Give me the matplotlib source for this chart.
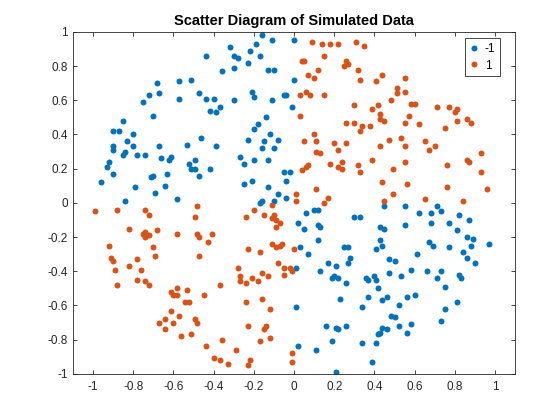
import matplotlib.pyplot as plt

plt.rcParams['font.family'] = ['Liberation Sans', 'DejaVu Sans']

# (x, y) points of class -1
class_neg = [
    (-0.44, 0.86), (-0.36, 0.77), (-0.68, 0.70), (-0.57, 0.71), (-0.51, 0.72), (-0.72, 0.63),
    (-0.67, 0.64), (-0.75, 0.59), (-0.57, 0.61), (-0.47, 0.64), (-0.44, 0.61), (-0.40, 0.61),
    (-0.42, 0.54), (-0.37, 0.56), (-0.39, 0.53), (-0.70, 0.51), (-0.85, 0.48), (-0.90, 0.42),
    (-0.87, 0.42), (-0.80, 0.40), (-0.46, 0.38), (-0.83, 0.36),
    (-0.16, 0.98), (-0.11, 0.95), (0.00, 0.95), (-0.19, 0.93), (-0.32, 0.91), (-0.22, 0.89),
    (-0.30, 0.86), (-0.28, 0.85), (-0.17, 0.86), (-0.23, 0.82), (-0.30, 0.79), (-0.13, 0.78),
    (-0.10, 0.78), (0.00, 0.72), (-0.21, 0.65), (-0.20, 0.62), (-0.30, 0.60), (-0.11, 0.60),
    (-0.05, 0.63), (-0.04, 0.63), (-0.01, 0.56), (-0.14, 0.50), (-0.18, 0.46), (-0.20, 0.43),
    (-0.12, 0.40), (-0.23, 0.37), (-0.15, 0.36), (-0.08, 0.37),
    (-0.90, 0.33), (-0.80, 0.33), (-0.67, 0.33), (-0.53, 0.34), (-0.39, 0.33), (-0.90, 0.31),
    (-0.84, 0.30), (-0.85, 0.28), (-0.78, 0.28), (-0.74, 0.28), (-0.66, 0.26), (-0.62, 0.25),
    (-0.61, 0.27), (-0.92, 0.24), (-0.93, 0.21), (-0.90, 0.17), (-0.96, 0.12), (-0.71, 0.15),
    (-0.70, 0.16), (-0.63, 0.17), (-0.79, 0.09), (-0.64, 0.10), (-0.69, 0.06), (-0.84, 0.01),
    (-0.58, 0.02), (-0.52, 0.23), (-0.49, 0.25), (-0.51, 0.20), (-0.49, 0.20), (-0.47, 0.16),
    (-0.42, 0.20),
    (-0.16, 0.32), (-0.10, 0.32), (-0.27, 0.27), (-0.25, 0.23), (-0.20, 0.25), (-0.13, 0.25),
    (-0.05, 0.18), (-0.02, 0.18), (-0.04, 0.13), (-0.25, 0.11), (-0.21, 0.13), (-0.13, 0.09),
    (-0.08, 0.05), (-0.04, 0.03), (-0.17, 0.00), (-0.16, 0.01), (-0.10, 0.01), (0.06, -0.06),
    (0.10, -0.04), (0.12, -0.04), (0.02, -0.12), (0.05, -0.15), (0.12, -0.13), (0.13, -0.14),
    (0.12, -0.22), (0.30, -0.08), (0.33, -0.08), (0.03, -0.26), (0.07, -0.30), (0.25, -0.26),
    (0.27, -0.26), (0.28, -0.32), (0.27, -0.35), (0.17, -0.35),
    (0.45, -0.02), (0.55, -0.02), (0.62, -0.06), (0.68, -0.06), (0.71, -0.02), (0.73, -0.05),
    (0.68, -0.12), (0.77, -0.12), (0.82, -0.07), (0.87, -0.10), (0.81, -0.16), (0.43, -0.14),
    (0.45, -0.15), (0.55, -0.13), (0.43, -0.22), (0.44, -0.25), (0.41, -0.27), (0.67, -0.23),
    (0.69, -0.25), (0.77, -0.26), (0.86, -0.20), (0.89, -0.21), (0.88, -0.25), (0.97, -0.24),
    (0.84, -0.29), (0.86, -0.32), (0.90, -0.35), (0.61, -0.30), (0.47, -0.33), (0.50, -0.34),
    (0.01, -0.38), (0.13, -0.40), (0.21, -0.37), (0.19, -0.44), (0.22, -0.44), (0.20, -0.43),
    (0.26, -0.47), (0.36, -0.44), (0.37, -0.45), (0.23, -0.56), (0.37, -0.55), (0.34, -0.61),
    (0.01, -0.61), (0.16, -0.72), (0.21, -0.73), (0.22, -0.74), (0.26, -0.72), (0.19, -0.81),
    (0.34, -0.82), (0.02, -0.84), (0.11, -0.86), (0.21, -0.99),
    (0.40, -0.43), (0.41, -0.45), (0.47, -0.41), (0.53, -0.43), (0.58, -0.39), (0.66, -0.40),
    (0.73, -0.40), (0.71, -0.44), (0.82, -0.42), (0.83, -0.44), (0.75, -0.49), (0.42, -0.50),
    (0.44, -0.57), (0.46, -0.55), (0.56, -0.55), (0.60, -0.54), (0.52, -0.60), (0.75, -0.62),
    (0.81, -0.58), (0.48, -0.66), (0.50, -0.67), (0.44, -0.73), (0.46, -0.74), (0.52, -0.72),
    (0.58, -0.71), (0.56, -0.76), (0.73, -0.69), (0.42, -0.77), (0.43, -0.76), (0.41, -0.82),
    (0.39, -0.93),
]

# (x, y) points of class 1
class_pos = [
    (0.09, 0.94), (0.14, 0.93), (0.18, 0.93), (0.22, 0.93), (0.31, 0.94), (0.35, 0.92),
    (0.15, 0.86), (0.04, 0.83), (0.05, 0.83), (0.26, 0.83), (0.27, 0.81), (0.25, 0.80),
    (0.12, 0.78), (0.32, 0.78), (0.07, 0.75), (0.10, 0.73), (0.33, 0.72), (0.03, 0.63),
    (0.06, 0.65), (0.08, 0.63), (0.15, 0.63), (0.30, 0.57), (0.39, 0.55), (0.03, 0.51),
    (0.26, 0.47), (0.30, 0.47), (0.34, 0.45), (0.38, 0.45), (0.33, 0.42), (0.10, 0.40),
    (0.11, 0.36), (0.05, 0.36), (0.20, 0.35), (0.26, 0.35),
    (0.44, 0.75), (0.41, 0.71), (0.55, 0.73), (0.51, 0.67), (0.51, 0.64), (0.55, 0.65),
    (0.48, 0.60), (0.58, 0.58), (0.60, 0.58), (0.42, 0.57), (0.71, 0.56), (0.77, 0.56),
    (0.81, 0.55), (0.80, 0.53), (0.43, 0.52), (0.43, 0.49), (0.45, 0.48), (0.57, 0.51),
    (0.81, 0.48), (0.86, 0.49), (0.88, 0.47), (0.55, 0.47), (0.62, 0.46), (0.75, 0.44),
    (0.47, 0.37), (0.53, 0.38), (0.65, 0.36),
    (-0.99, -0.05), (-0.88, -0.04), (-0.74, -0.04), (-0.72, -0.07), (-0.48, -0.02), (-0.49, -0.08),
    (-0.82, -0.15), (-0.74, -0.17), (-0.75, -0.18), (-0.73, -0.19), (-0.72, -0.19), (-0.74, -0.20),
    (-0.68, -0.16), (-0.58, -0.18), (-0.48, -0.18), (-0.47, -0.20), (-0.41, -0.18), (-0.43, -0.23),
    (-0.92, -0.25), (-0.70, -0.26), (-0.69, -0.31), (-0.91, -0.32), (-0.90, -0.34), (-0.78, -0.33),
    (-0.47, -0.31),
    (0.11, 0.30), (0.13, 0.29), (0.22, 0.31), (0.18, 0.23), (0.24, 0.24), (0.22, 0.21),
    (0.24, 0.20), (0.32, 0.22), (0.33, 0.18), (0.04, 0.19), (0.06, 0.21), (0.07, 0.22),
    (0.11, 0.08), (0.01, 0.05), (0.01, 0.01), (0.17, 0.03), (0.15, 0.00), (-0.11, -0.01),
    (-0.20, -0.04), (-0.24, -0.08), (-0.15, -0.07), (-0.10, -0.07), (-0.11, -0.09), (-0.09, -0.10),
    (-0.07, -0.12), (-0.09, -0.14), (-0.11, -0.24), (-0.09, -0.26), (-0.07, -0.25), (-0.06, -0.24),
    (-0.23, -0.27), (-0.17, -0.29), (0.00, -0.27), (-0.08, -0.35),
    (0.43, 0.33), (0.55, 0.33), (0.67, 0.31), (0.70, 0.33), (0.93, 0.29), (0.39, 0.25),
    (0.55, 0.24), (0.49, 0.20), (0.76, 0.22), (0.86, 0.25), (0.87, 0.24), (0.93, 0.18),
    (0.44, 0.12), (0.56, 0.11), (0.76, 0.09), (0.96, 0.08), (0.49, 0.05), (0.45, 0.01),
    (0.65, 0.02), (0.84, 0.01),
    (-0.82, -0.37), (-0.89, -0.39), (-0.76, -0.39), (-0.78, -0.45), (-0.74, -0.46), (-0.72, -0.48),
    (-0.88, -0.48), (-0.61, -0.52), (-0.60, -0.54), (-0.58, -0.54), (-0.58, -0.50), (-0.53, -0.51),
    (-0.45, -0.54), (-0.37, -0.48), (-0.54, -0.58), (-0.52, -0.58), (-0.61, -0.63), (-0.57, -0.66),
    (-0.64, -0.68), (-0.60, -0.70), (-0.67, -0.70), (-0.64, -0.74), (-0.49, -0.68), (-0.48, -0.70),
    (-0.56, -0.78), (-0.51, -0.77), (-0.44, -0.84), (-0.36, -0.80), (-0.40, -0.91), (-0.37, -0.92),
    (-0.28, -0.38), (-0.27, -0.43), (-0.27, -0.46), (-0.24, -0.47), (-0.21, -0.44), (-0.18, -0.46),
    (-0.16, -0.41), (-0.13, -0.43), (-0.05, -0.42), (-0.05, -0.38), (-0.02, -0.38), (-0.01, -0.40),
    (-0.24, -0.58), (-0.16, -0.56), (-0.12, -0.62), (-0.23, -0.72), (-0.15, -0.74), (-0.14, -0.72),
    (-0.12, -0.79), (-0.17, -0.81), (-0.29, -0.86), (-0.22, -0.92), (-0.23, -0.95), (-0.33, -0.94),
    (-0.01, -0.88), (-0.01, -0.93),
]

labels = ["-1", "1"]
colors = ["#0072BD", "#D95319"]

xticks = [-1, -0.8, -0.6, -0.4, -0.2, 0, 0.2, 0.4, 0.6, 0.8, 1]
tick_labels = ["-1", "-0.8", "-0.6", "-0.4", "-0.2", "0", "0.2", "0.4", "0.6", "0.8", "1"]

fig = plt.figure(figsize=(5.6, 4.2), dpi=100)
ax = fig.add_axes([0.13, 0.11, 0.79, 0.814])

for pts, lab, col in zip([class_neg, class_pos], labels, colors):
    xs, ys = zip(*pts)
    ax.plot(xs, ys, "o", color=col, markersize=4.3, markeredgewidth=0, label=lab)

ax.set_xlim(-1.1, 1.1)
ax.set_ylim(-1, 1)
ax.set_xticks(xticks)
ax.set_xticklabels(tick_labels)
ax.set_yticks(xticks)
ax.set_yticklabels(tick_labels)

ax.tick_params(direction="in", length=3, width=0.6, colors="#262626", labelsize=8.5,
               top=True, right=True)
ax.tick_params(axis="x", pad=5)
ax.tick_params(axis="y", pad=3.5)
for s in ax.spines.values():
    s.set_linewidth(0.6)
    s.set_color("#262626")

ax.set_title("Scatter Diagram of Simulated Data", fontsize=10.5, fontweight="bold", pad=5)

leg = ax.legend(loc="upper right", bbox_to_anchor=(0.966, 0.982), fontsize=8.5,
                fancybox=False, framealpha=1, edgecolor="#262626", handlelength=0.8,
                handletextpad=0.5, borderpad=0.4, labelspacing=0.4, borderaxespad=0)
leg.get_frame().set_linewidth(0.6)

fig.savefig("out.png", dpi=100)
